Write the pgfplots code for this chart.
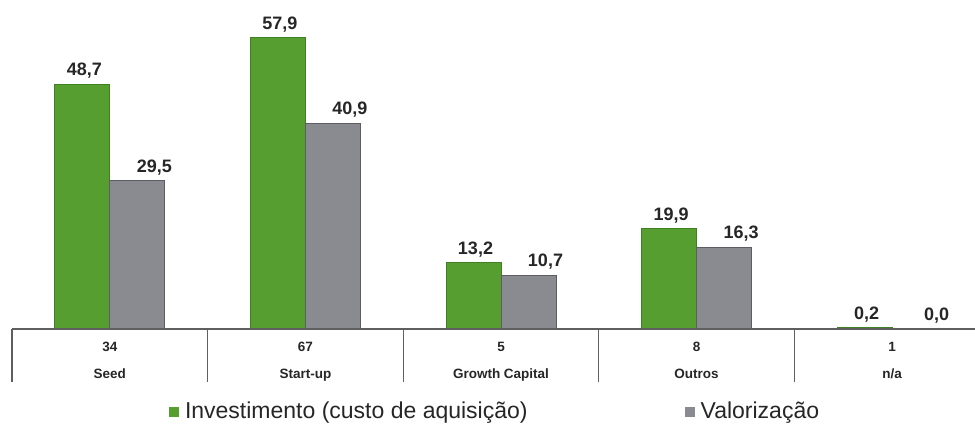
\documentclass[border=0pt]{standalone}
\usepackage{pgfplots}
\pgfplotsset{compat=1.18}
\usepackage{pgfplotstable}
\usepackage{fontspec}
\setmainfont{Liberation Sans}

\definecolor{invgreen}{RGB}{86,158,48}
\definecolor{invgreenedge}{RGB}{64,128,34}
\definecolor{valgray}{RGB}{138,138,145}
\definecolor{valgrayedge}{RGB}{92,92,98}
\definecolor{txt}{RGB}{38,38,38}
\definecolor{rule}{RGB}{95,95,95}

% stage, acquisition cost, valuation, number of companies
\pgfplotstableread{
idx inv val n
0 48.7 29.5 34
1 57.9 40.9 67
2 13.2 10.7 5
3 19.9 16.3 8
4 0.2 0.0 1
}\datatable

\begin{document}
\begin{tikzpicture}
\begin{axis}[
  at={(6pt,53pt)}, anchor=south west,
  scale only axis, width=489pt, height=164.5pt,
  xmin=-0.5, xmax=4.5, ymin=0, ymax=65.4,
  axis lines=none, clip=false,
  ybar, bar width=27.5pt,
  nodes near coords,
  /pgf/number format/fixed,
  /pgf/number format/fixed zerofill,
  /pgf/number format/precision=1,
  /pgf/number format/use comma,
  /pgf/number format/assume math mode=true,
  every node near coord/.append style={font=\fontsize{9}{10}\selectfont\bfseries,
    text=txt, anchor=base, yshift=4.25pt, inner sep=0pt},
  legend style={at={(axis cs:0.3027,-16.5)}, anchor=west, draw=none, fill=none,
    inner sep=0pt, outer sep=0pt, legend columns=2,
    font=\fontsize{11.5}{13}\selectfont, text=txt,
    nodes={inner sep=0.5pt},
    /tikz/every odd column/.append style={column sep=2.5pt},
    /tikz/every even column/.append style={column sep=78pt}},
  legend cell align=left,
]
\addplot[bar shift=-13.75pt, fill=invgreen, draw=invgreenedge, line width=0.5pt,
  every node near coord/.append style={xshift=1pt},
  legend image code/.code={\fill[invgreen] (0pt,-2.25pt) rectangle (4.5pt,2.25pt);}]
  table[x=idx, y=inv] {\datatable};
\addlegendentry{Investimento (custo de aquisição)}
\addplot[bar shift=13.75pt, fill=valgray, draw=valgrayedge, line width=0.5pt,
  every node near coord/.append style={xshift=8.5pt},
  legend image code/.code={\fill[valgray] (0pt,-2.25pt) rectangle (4.5pt,2.25pt);}]
  table[x=idx, y=val] {\datatable};
\addlegendentry{Valorização}

% category table under the bars
\draw[rule, line width=0.75pt] (axis cs:-0.5,0) -- (axis cs:4.5,0);
\pgfplotsinvokeforeach{-0.5,0.5,1.5,2.5,3.5,4.5}{
  \draw[rule, line width=0.6pt] (axis cs:#1,0) -- (axis cs:#1,-10.54);
}
\begin{scope}[every node/.style={anchor=base, inner sep=0pt, text=txt,
    font=\fontsize{6.75}{8}\selectfont\bfseries}]
\node at (axis cs:0,-4.57) {34};
\node at (axis cs:1,-4.57) {67};
\node at (axis cs:2,-4.57) {5};
\node at (axis cs:3,-4.57) {8};
\node at (axis cs:4,-4.57) {1};
\node at (axis cs:0,-9.74) {Seed};
\node at (axis cs:1,-9.74) {Start-up};
\node at (axis cs:2,-9.74) {Growth Capital};
\node at (axis cs:3,-9.74) {Outros};
\node at (axis cs:4,-9.74) {n/a};
\end{scope}
\end{axis}
\pgfresetboundingbox
\useasboundingbox (0,0) rectangle (487.5pt,217.5pt);
\end{tikzpicture}
\end{document}
